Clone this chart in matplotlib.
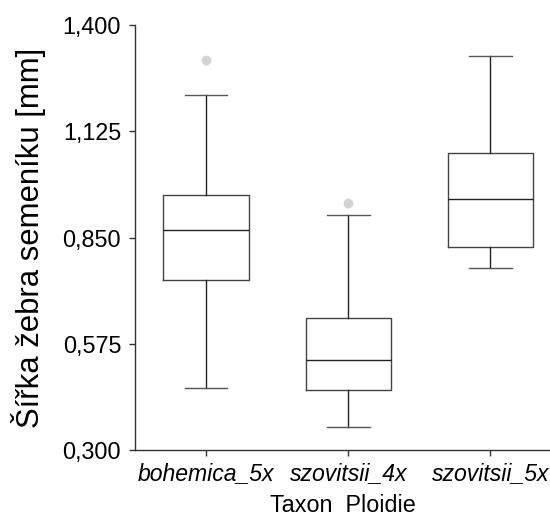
import matplotlib
matplotlib.use("Agg")
import matplotlib.pyplot as plt

plt.rcParams['font.family'] = ['Liberation Sans', 'DejaVu Sans']

categories = ["bohemica_5x", "szovitsii_4x", "szovitsii_5x"]
whislo = [0.461, 0.360, 0.771]
q1 = [0.740, 0.4545, 0.8255]
med = [0.8695, 0.532, 0.949]
q3 = [0.960, 0.641, 1.0696]
whishi = [1.219, 0.908, 1.3206]
fliers = [[1.309], [0.940], []]
yticks = [0.300, 0.575, 0.850, 1.125, 1.400]
ytick_labels = ["0,300", "0,575", "0,850", "1,125", "1,400"]

stats = []
for i, c in enumerate(categories):
    stats.append(dict(label=c, whislo=whislo[i], q1=q1[i], med=med[i],
                      q3=q3[i], whishi=whishi[i], fliers=fliers[i]))

fig = plt.figure(figsize=(5.5, 5.17), dpi=100)
ax = fig.add_axes([0.2455, 0.1296, 0.7545, 0.822])

ax.bxp(stats, positions=[0, 1, 2], widths=0.6, showfliers=True,
       boxprops=dict(color='#444444', linewidth=1.0),
       medianprops=dict(color='#222222', linewidth=1.0),
       whiskerprops=dict(color='#222222', linewidth=1.0),
       capprops=dict(color='#555555', linewidth=1.0),
       capwidths=0.3,
       flierprops=dict(marker='o', markerfacecolor='#d3d3d3',
                       markeredgecolor='#d3d3d3', markersize=6))

ax.set_xlim(-0.5, 2.42)
ax.set_ylim(0.3, 1.4)
ax.set_yticks(yticks)
ax.set_yticklabels(ytick_labels, fontsize=16.8)
ax.set_xticks([0, 1, 2])
ax.set_xticklabels(categories, fontsize=16.6, style='italic')
for s in ['top', 'right']:
    ax.spines[s].set_visible(False)
for s in ['left', 'bottom']:
    ax.spines[s].set_color('#333333')
    ax.spines[s].set_linewidth(1.0)
ax.tick_params(axis='both', colors='#333333', length=4, width=1.0,
               labelcolor='black')
ax.tick_params(axis='y', pad=6)
ax.tick_params(axis='x', pad=5)
ax.set_ylabel("Šířka žebra semeníku [mm]", fontsize=22.4, labelpad=12)
ax.set_xlabel("Taxon  Ploidie", fontsize=16.8, labelpad=6)

fig.savefig("out.png", dpi=100)
